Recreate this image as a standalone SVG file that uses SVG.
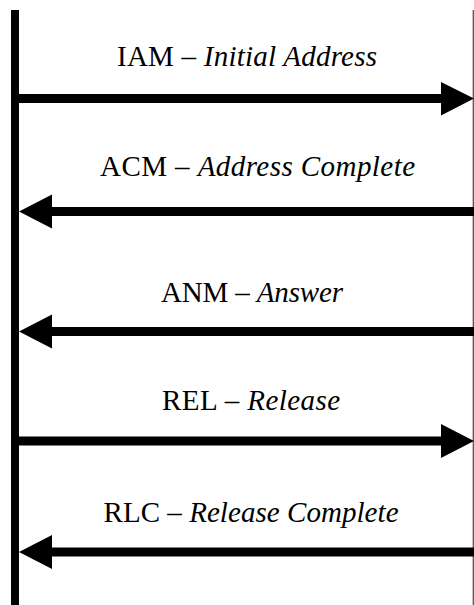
<svg xmlns="http://www.w3.org/2000/svg" width="474" height="605" viewBox="0 0 474 605">
<style>
text{font-family:'Liberation Serif','Times New Roman','DejaVu Serif',serif;font-size:29px;fill:#000}
.it{font-style:italic}
.ln{stroke:#000;stroke-width:9;fill:none}
.hd{fill:#000}
</style>
<rect width="474" height="605" fill="#fff"/>
<g id="lifelines">
<line x1="15" y1="10" x2="15" y2="605" stroke="#000" stroke-width="8"/>
<line x1="473.3" y1="10" x2="473.3" y2="605" stroke="#555" stroke-width="1.3"/>
</g>
<g id="connectors">
<g id="iam-arrow"><line class="ln" x1="19" y1="98.5" x2="443" y2="98.5"/><polygon class="hd" points="441,82 474,98.5 441,115.5"/></g>
<g id="acm-arrow"><line class="ln" x1="50" y1="211.5" x2="474" y2="211.5"/><polygon class="hd" points="52,194.5 19,211.5 52,228.5"/></g>
<g id="anm-arrow"><line class="ln" x1="50" y1="331.5" x2="474" y2="331.5"/><polygon class="hd" points="52,314.5 19,331.5 52,348.5"/></g>
<g id="rel-arrow"><line class="ln" x1="19" y1="441" x2="443" y2="441"/><polygon class="hd" points="441,424 474,441 441,458"/></g>
<g id="rlc-arrow"><line class="ln" x1="50" y1="552" x2="474" y2="552"/><polygon class="hd" points="52,535 19,552 52,569"/></g>
</g>
<g id="label-iam"><text font-family="Liberation Serif, serif" x="117" y="65.5" textLength="260">IAM – <tspan class="it">Initial Address</tspan></text></g>
<g id="label-acm"><text font-family="Liberation Serif, serif" x="100" y="176" textLength="315">ACM – <tspan class="it">Address Complete</tspan></text></g>
<g id="label-anm"><text font-family="Liberation Serif, serif" x="161" y="301.5" textLength="182">ANM – <tspan class="it">Answer</tspan></text></g>
<g id="label-rel"><text font-family="Liberation Serif, serif" x="162" y="409.5" textLength="178">REL – <tspan class="it">Release</tspan></text></g>
<g id="label-rlc"><text font-family="Liberation Serif, serif" x="103.5" y="521.5" textLength="295">RLC – <tspan class="it">Release Complete</tspan></text></g>
</svg>
